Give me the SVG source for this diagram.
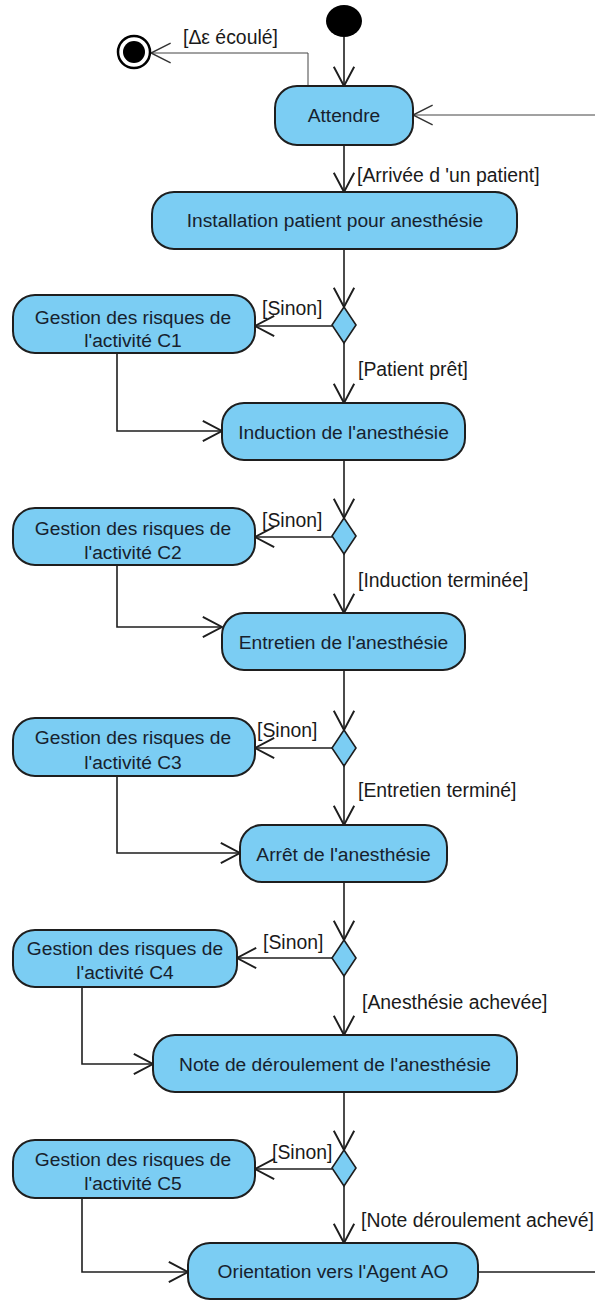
<svg xmlns="http://www.w3.org/2000/svg" width="595" height="1301" viewBox="0 0 595 1301">
<style>
.act{fill:#7bcdf3;stroke:#1e1e1e;stroke-width:2}
.dec{fill:#7bcdf3;stroke:#1e1e1e;stroke-width:1.6}
.lbl{font-family:"Liberation Sans",Arial,sans-serif;font-size:19.2px;fill:#17212d;text-anchor:middle}
.grd{font-family:"Liberation Sans",Arial,sans-serif;font-size:19.4px;fill:#1a1a1a}
.e{fill:none;stroke:#1e1e1e;stroke-width:1.6;marker-end:url(#arr)}
.t{fill:none;stroke:#444;stroke-width:1;marker-end:url(#arrt)}
</style>
<defs>
<marker id="arr" markerUnits="userSpaceOnUse" markerWidth="24" markerHeight="24" viewBox="-18 -10 20 20" refX="0" refY="0" orient="auto">
<path d="M-16,-8.5 L0,0 L-16,8.5" fill="none" stroke="#1e1e1e" stroke-width="1.6"/>
</marker>
<marker id="arrt" markerUnits="userSpaceOnUse" markerWidth="24" markerHeight="24" viewBox="-20 -11 22 22" refX="0" refY="0" orient="auto">
<path d="M-18,-9 L0,0 L-18,9" fill="none" stroke="#333" stroke-width="1.3"/>
</marker>
</defs>
<rect width="595" height="1301" fill="#fff"/>
<g id="connectors">
<line class="e" x1="344" y1="37" x2="344" y2="86"/>
<polyline class="t" points="308,86 308,53 151,53"/>
<line class="t" x1="595" y1="115" x2="413" y2="115"/>
<line class="e" x1="344" y1="145" x2="344" y2="192"/>
<line class="e" x1="344" y1="249" x2="344" y2="307"/>
<line class="e" x1="332" y1="326" x2="255" y2="326"/>
<line class="e" x1="344" y1="343" x2="344" y2="403"/>
<polyline class="e" points="117,353 117,431 222,431"/>
<line class="e" x1="344" y1="460" x2="344" y2="518"/>
<line class="e" x1="332" y1="537" x2="255" y2="537"/>
<line class="e" x1="344" y1="554" x2="344" y2="613"/>
<polyline class="e" points="117,565 117,627 222,627"/>
<line class="e" x1="344" y1="670" x2="344" y2="730"/>
<line class="e" x1="332" y1="748" x2="255" y2="748"/>
<line class="e" x1="344" y1="766" x2="344" y2="825"/>
<polyline class="e" points="117,776 117,853 240,853"/>
<line class="e" x1="344" y1="882" x2="344" y2="940"/>
<line class="e" x1="332" y1="958" x2="237" y2="958"/>
<line class="e" x1="344" y1="976" x2="344" y2="1035"/>
<polyline class="e" points="82,987 82,1064 153,1064"/>
<line class="e" x1="344" y1="1092" x2="344" y2="1150"/>
<line class="e" x1="332" y1="1169" x2="255" y2="1169"/>
<line class="e" x1="344" y1="1186" x2="344" y2="1243"/>
<polyline class="e" points="82,1198 82,1272 188,1272"/>
<line x1="478" y1="1272" x2="595" y2="1272" stroke="#1e1e1e" stroke-width="1.3"/>
<text class="grd" x="183" y="44">[Δε écoulé]</text>
<text class="grd" x="357" y="182">[Arrivée d 'un patient]</text>
<text class="grd" x="262" y="315">[Sinon]</text>
<text class="grd" x="358" y="376">[Patient prêt]</text>
<text class="grd" x="262" y="527">[Sinon]</text>
<text class="grd" x="358" y="587">[Induction terminée]</text>
<text class="grd" x="257" y="737">[Sinon]</text>
<text class="grd" x="358" y="797">[Entretien terminé]</text>
<text class="grd" x="263" y="949">[Sinon]</text>
<text class="grd" x="362" y="1009">[Anesthésie achevée]</text>
<text class="grd" x="272" y="1159">[Sinon]</text>
<text class="grd" x="361" y="1227">[Note déroulement achevé]</text>
</g>
<g id="initial"><ellipse cx="344" cy="21" rx="18" ry="16" fill="#000"/></g>
<g id="final"><circle cx="134" cy="52" r="16" fill="#fff" stroke="#000" stroke-width="2.5"/><circle cx="134" cy="52" r="11" fill="#000"/></g>
<g id="attendre"><rect class="act" x="275" y="86" width="138" height="59" rx="22"/><text class="lbl" x="344" y="122">Attendre</text></g>
<g id="installation"><rect class="act" x="152" y="192" width="365" height="57" rx="22"/><text class="lbl" x="335" y="227">Installation patient pour anesthésie</text></g>
<g id="d1"><polygon class="dec" points="344,307 356,325 344,343 332,325"/></g>
<g id="c1"><rect class="act" x="13" y="295" width="242" height="58" rx="22"/><text class="lbl" x="133" y="324">Gestion des risques de</text><text class="lbl" x="133" y="347">l'activité C1</text></g>
<g id="induction"><rect class="act" x="222" y="403" width="243" height="57" rx="22"/><text class="lbl" x="343.5" y="439">Induction de l'anesthésie</text></g>
<g id="d2"><polygon class="dec" points="344,518 356,536 344,554 332,536"/></g>
<g id="c2"><rect class="act" x="13" y="508" width="242" height="57" rx="22"/><text class="lbl" x="133" y="535">Gestion des risques de</text><text class="lbl" x="133" y="559">l'activité C2</text></g>
<g id="entretien"><rect class="act" x="222" y="613" width="243" height="57" rx="22"/><text class="lbl" x="343.5" y="649">Entretien de l'anesthésie</text></g>
<g id="d3"><polygon class="dec" points="344,730 356,748 344,766 332,748"/></g>
<g id="c3"><rect class="act" x="13" y="718" width="242" height="58" rx="22"/><text class="lbl" x="133" y="744">Gestion des risques de</text><text class="lbl" x="133" y="769">l'activité C3</text></g>
<g id="arret"><rect class="act" x="240" y="825" width="207" height="57" rx="22"/><text class="lbl" x="343.5" y="861">Arrêt de l'anesthésie</text></g>
<g id="d4"><polygon class="dec" points="344,940 356,958 344,976 332,958"/></g>
<g id="c4"><rect class="act" x="13" y="930" width="224" height="57" rx="22"/><text class="lbl" x="125" y="955">Gestion des risques de</text><text class="lbl" x="125" y="979">l'activité C4</text></g>
<g id="note"><rect class="act" x="153" y="1035" width="364" height="57" rx="22"/><text class="lbl" x="335" y="1071">Note de déroulement de l'anesthésie</text></g>
<g id="d5"><polygon class="dec" points="344,1150 356,1168 344,1186 332,1168"/></g>
<g id="c5"><rect class="act" x="13" y="1140" width="242" height="58" rx="22"/><text class="lbl" x="133" y="1166">Gestion des risques de</text><text class="lbl" x="133" y="1190">l'activité C5</text></g>
<g id="orientation"><rect class="act" x="188" y="1243" width="290" height="56" rx="22"/><text class="lbl" x="333" y="1278">Orientation vers l'Agent AO</text></g>
</svg>
